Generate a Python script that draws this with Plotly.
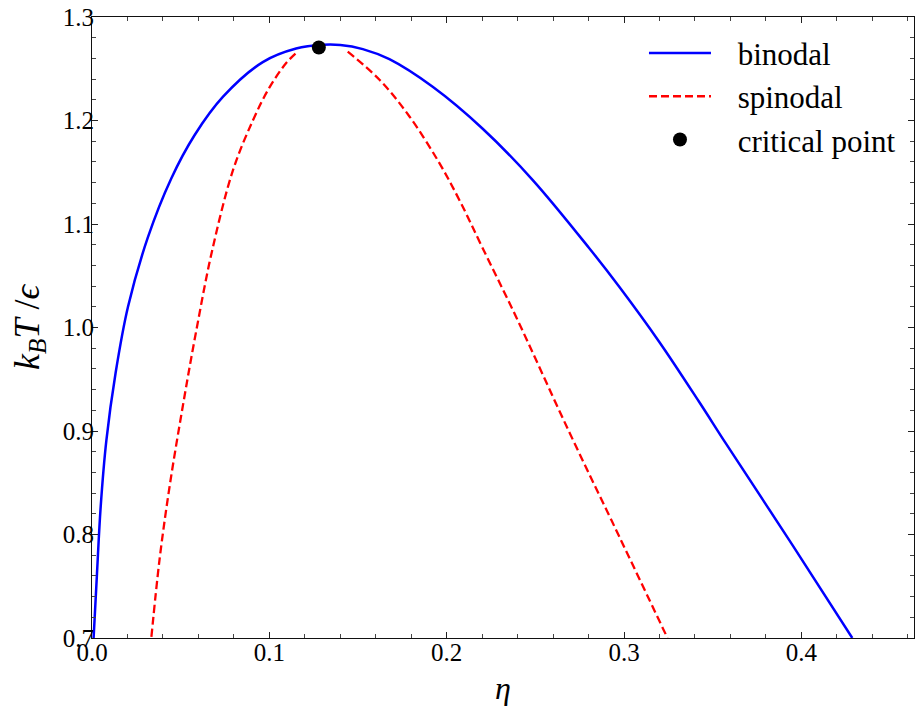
import plotly.graph_objects as go

# Binodal (coexistence) curve: packing fraction eta vs reduced temperature
binodal_eta = [0.0009, 0.0028, 0.0049, 0.0081, 0.0133, 0.0203, 0.0315, 0.0447, 0.0579,
               0.0739, 0.0963, 0.1151, 0.1300, 0.1400, 0.1527, 0.1677, 0.1921, 0.2203,
               0.2484, 0.2804, 0.2973, 0.3198, 0.3424, 0.3574, 0.3949, 0.4287]
binodal_T = [0.700, 0.762, 0.827, 0.891, 0.956, 1.020, 1.087, 1.144, 1.186,
             1.223, 1.2564, 1.2695, 1.2731, 1.2729, 1.2690, 1.2592, 1.2325, 1.192,
             1.1427, 1.0766, 1.0394, 0.9863, 0.928, 0.888, 0.790, 0.700]

# Spinodal curve (two branches, not joined at the top)
spinodal_eta = [0.0335, 0.0381, 0.0438, 0.0513, 0.0588, 0.0677, 0.0795, 0.0907, 0.1001,
                0.1095, 0.1161, None, 0.1442, 0.1621, 0.1790, 0.1959, 0.2075, 0.2203,
                0.2391, 0.2691, 0.2973, 0.3245]
spinodal_T = [0.701, 0.776, 0.847, 0.925, 0.997, 1.074, 1.152, 1.200, 1.232,
              1.2555, 1.2667, None, 1.2665, 1.2394, 1.2039, 1.1588, 1.122, 1.0766,
              1.0104, 0.899, 0.798, 0.700]

# Critical point
critical_eta = [0.1279]
critical_T = [1.2705]

FONT = "Liberation Serif, DejaVu Serif, serif"
PAD = "\u2002\u2009"

fig = go.Figure()
fig.add_trace(go.Scatter(x=binodal_eta, y=binodal_T, mode="lines", name=PAD + "binodal",
                         legendgroup="a",
                         line=dict(color="#0000ff", width=2.5, shape="spline", smoothing=1.0)))
fig.add_trace(go.Scatter(x=spinodal_eta, y=spinodal_T, mode="lines", name=PAD + "spinodal",
                         legendgroup="b", connectgaps=False,
                         line=dict(color="#ff0000", width=2.3, dash="8px,4px",
                                   shape="spline", smoothing=1.0)))
fig.add_trace(go.Scatter(x=critical_eta, y=critical_T, mode="markers",
                         name=PAD + "critical point", legendgroup="c",
                         marker=dict(color="black", size=14)))

axis_common = dict(
    showgrid=False, zeroline=False, showline=True, linecolor="#111", linewidth=1.2,
    mirror="allticks", ticks="inside", ticklen=6, tickwidth=1, tickcolor="#222",
    tickfont=dict(family=FONT, size=25, color="black"),
    minor=dict(ticks="inside", ticklen=3.5, tickwidth=1, tickcolor="#444"),
)

fig.update_xaxes(range=[0, 0.4635], tick0=0, dtick=0.1, tickformat=".1f",
                 ticklabelstandoff=-8,
                 title=dict(text="<i>η</i>", font=dict(family=FONT, size=32, color="black"),
                            standoff=14),
                 **axis_common)
fig.update_xaxes(minor_dtick=0.02)
fig.update_yaxes(range=[0.7, 1.3], tick0=0.7, dtick=0.1, tickformat=".1f",
                 ticklabelstandoff=-8,
                 title=dict(text="<i>k</i><sub><i>B</i></sub><i>T</i> /<i>ϵ</i>",
                            font=dict(family=FONT, size=36, color="black"), standoff=12),
                 **axis_common)
fig.update_yaxes(minor_dtick=0.02)

fig.update_layout(
    width=916, height=706,
    margin=dict(l=92, r=2, t=17, b=68, autoexpand=False),
    paper_bgcolor="white", plot_bgcolor="white",
    showlegend=True,
    legend=dict(x=0.6715, y=0.985, xanchor="left", yanchor="top",
                bgcolor="rgba(0,0,0,0)", borderwidth=0,
                font=dict(family=FONT, size=31, color="black"),
                traceorder="grouped", tracegroupgap=0, itemwidth=62),
    font=dict(family=FONT, color="black"),
)

fig.write_html("out.html")
